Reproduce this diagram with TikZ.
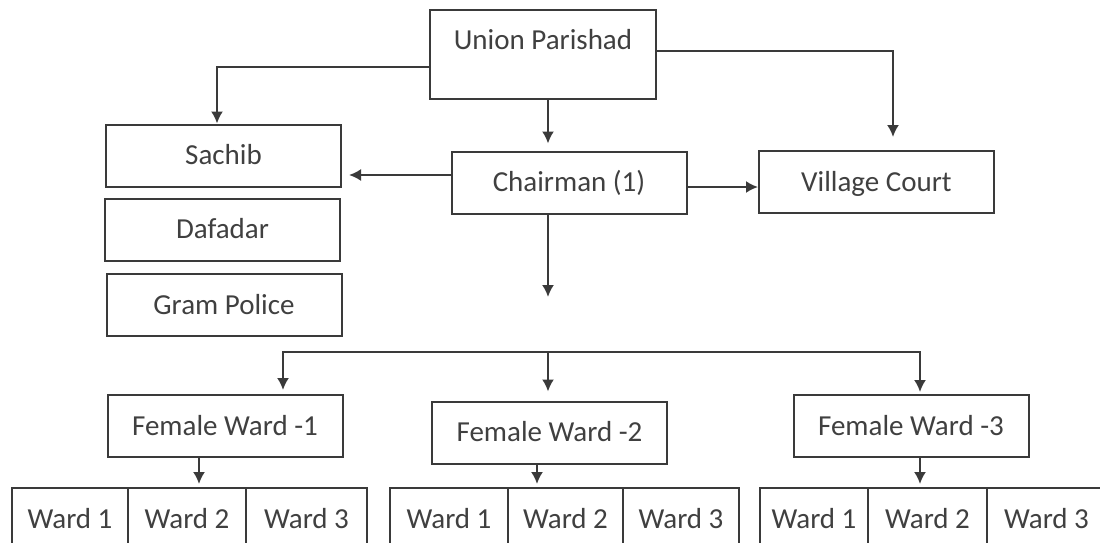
\documentclass[tikz,border=0pt]{standalone}
\usepackage{fontspec}
\setmainfont{Carlito}
\usetikzlibrary{arrows.meta}

\definecolor{boxline}{HTML}{3A3A3A}
\definecolor{boxtext}{HTML}{404040}

\tikzset{
	box/.style = {draw = boxline, line width = 1pt, text = boxtext, minimum width = 117.5pt, minimum height = 31pt, inner sep = 0pt, text height = 9.3pt, text depth = 0pt, font = \fontsize{14.5}{17}\selectfont},
	cell/.style = {box, minimum width = 58.5pt},
	link/.style = {draw = boxline, line width = 1pt, ->}
}

\begin{document}
\begin{tikzpicture}[x = 0.5pt, y = -0.5pt, > = {Latex[length = 6pt, width = 6pt]}]

	\clip (0, 0) rectangle (1100, 542);

	% Top level
	
	\node [box, minimum width = 113pt, inner ysep = 0pt, text height = 19.65pt, text depth = 24.85pt] (union) at (543, 54.5) {Union Parishad};
	\node [box] (chair) at (569, 182.5) {Chairman (1)};
	\node [box] (court) at (876.5, 182) {Village Court};
	
	% Staff column
	
	\node [box] (sachib) at (223.5, 155.5) {Sachib};
	\node [box] (dafadar) at (222.5, 229.5) {Dafadar};
	\node [box] (police) at (224, 305) {Gram Police};
	
	% Female wards
	
	\node [box] (fw1) at (225, 426) {Female Ward -1};
	\node [box] (fw2) at (549.5, 432.5) {Female Ward -2};
	\node [box] (fw3) at (911, 426) {Female Ward -3};
	
	% Ward rows
	
	\foreach \g/\xa/\xb/\xc/\xd in {1/12/128/246/367, 2/390/508/623/739, 3/760/868/987/1106}
	{
		\node [cell, minimum width = {(\xb - \xa) * 0.5pt}] (w\g1) at ({(\xa + \xb) / 2}, 519) {Ward 1};
		\node [cell, minimum width = {(\xc - \xb) * 0.5pt}] (w\g2) at ({(\xb + \xc) / 2}, 519) {Ward 2};
		\node [cell, minimum width = {(\xd - \xc) * 0.5pt}] (w\g3) at ({(\xc + \xd) / 2}, 519) {Ward 3};
	}
	
	% Links from the union
	
	\draw [link] ([yshift = -6.25pt]union.west) -| ([xshift = -3.25pt]sachib.north);
	\draw [link, shorten > = 6.5pt] ([yshift = 1.75pt]union.east) -| ([xshift = 8.25pt]court.north);
	\draw [link, shorten > = 3.5pt] ([xshift = 2.5pt]union.south) -- ([xshift = -10.5pt]chair.north);
	
	% Links from the chairman
	
	\draw [link, shorten > = 3.5pt] ([yshift = 3.75pt]chair.west) -- ([yshift = 3.75pt]chair.west -| sachib.east);
	\draw [link] ([yshift = -2.25pt]chair.east) -- ([yshift = -2.25pt]chair.east -| court.west);
	
	\coordinate (chairend) at (548, 297);
	\draw [link] ([xshift = -10.5pt]chair.south) -- (chairend);
	
	% Bus to the female wards
	
	\coordinate (bus) at (548, 352);
	\draw [link, shorten > = 2pt] (bus) -| ([xshift = 29pt]fw1.north);
	\draw [link, shorten > = 4.5pt] (bus) -- (bus |- fw2.north);
	\draw [link, shorten > = 1pt] (bus) -| ([xshift = 4.5pt]fw3.north);
	
	% Female wards to ward rows
	
	\draw [link, shorten > = 1.5pt] ([xshift = -13pt]fw1.south) -- ([xshift = -13pt]fw1.south |- w12.north);
	\draw [link, shorten > = 1.5pt] ([xshift = -6.25pt]fw2.south) -- ([xshift = -6.25pt]fw2.south |- w22.north);
	\draw [link, shorten > = 1.5pt] ([xshift = 4.5pt]fw3.south) -- ([xshift = 4.5pt]fw3.south |- w32.north);

\end{tikzpicture}
\end{document}
